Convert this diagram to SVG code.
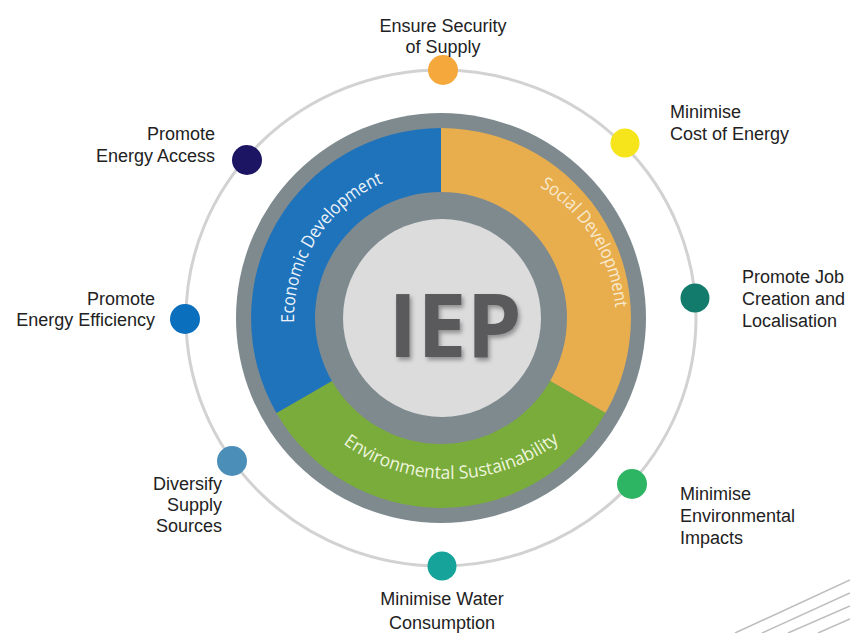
<svg xmlns="http://www.w3.org/2000/svg" width="850" height="633" viewBox="0 0 850 633">
<defs>
<style>
.lbl{font-family:"Liberation Sans",Arial,sans-serif;font-size:18px;fill:#222}
.seg{font-family:"Open Sans","DejaVu Sans",sans-serif;font-size:18px}
.deco{stroke:#bdbdbd;stroke-width:1.5;fill:none}
</style>
<filter id="sh" x="-20%" y="-20%" width="140%" height="140%">
<feDropShadow dx="2" dy="3" stdDeviation="2" flood-color="#000" flood-opacity="0.35"/>
</filter>
<path id="pEco" d="M295.3,337.2 A147,147 0 0 1 396.8,177.8"/>
<path id="pSoc" d="M506.8,171.7 A158,158 0 0 1 614.5,344"/>
<path id="pEnv" d="M312.9,415.1 A179,179 0 0 0 589.1,412.6"/>
</defs>
<rect width="850" height="633" fill="#fff"/>
<g id="decoration">
<line class="deco" x1="735" y1="633" x2="850" y2="580"/>
<line class="deco" x1="762" y1="633" x2="850" y2="593"/>
<line class="deco" x1="788" y1="633" x2="850" y2="606"/>
<line class="deco" x1="818" y1="633" x2="850" y2="619"/>
</g>
<g id="connectors">
<ellipse cx="441" cy="318" rx="255" ry="248" fill="none" stroke="#d2d2d2" stroke-width="3"/>
</g>
<g id="wheel">
<circle cx="441" cy="318" r="205" fill="#7f8a8f"/>
<path d="M441,128 A190,190 0 0 1 605.5,413 L550.1,381 A126,126 0 0 0 441,192 Z" fill="#e8ae4e"/>
<path d="M605.5,413 A190,190 0 0 1 276.5,413 L331.9,381 A126,126 0 0 0 550.1,381 Z" fill="#79ac3b"/>
<path d="M276.5,413 A190,190 0 0 1 441,128 L441,192 A126,126 0 0 0 331.9,381 Z" fill="#1f73bb"/>
<circle cx="442" cy="318" r="99" fill="#dcdcdc"/>
</g>
<g id="economic-development">
<text class="seg" fill="#eef3f9"><textPath href="#pEco" startOffset="50%" text-anchor="middle" textLength="176" lengthAdjust="spacingAndGlyphs">Economic Development</textPath></text>
</g>
<g id="social-development">
<text class="seg" fill="#f8ead0"><textPath href="#pSoc" startOffset="50%" text-anchor="middle" textLength="148" lengthAdjust="spacingAndGlyphs">Social Development</textPath></text>
</g>
<g id="environmental-sustainability">
<text class="seg" fill="#eef5de"><textPath href="#pEnv" startOffset="50%" text-anchor="middle" textLength="232" lengthAdjust="spacingAndGlyphs">Environmental Sustainability</textPath></text>
</g>
<g id="iep">
<text x="455" y="357" text-anchor="middle" font-family="'Open Sans','DejaVu Sans',sans-serif" font-weight="bold" font-size="88" fill="#5a5a5c" filter="url(#sh)">IEP</text>
</g>
<g id="n-security">
<circle cx="443" cy="70" r="15" fill="#f5a83b"/>
<text class="lbl" text-anchor="middle"><tspan x="443" y="32">Ensure Security</tspan><tspan x="443" y="53">of Supply</tspan></text>
</g>
<g id="n-cost">
<circle cx="625" cy="143" r="14.5" fill="#f7e51b"/>
<text class="lbl"><tspan x="670" y="118">Minimise</tspan><tspan x="670" y="140">Cost of Energy</tspan></text>
</g>
<g id="n-job">
<circle cx="695" cy="298" r="14.5" fill="#137b6b"/>
<text class="lbl"><tspan x="742" y="283">Promote Job</tspan><tspan x="742" y="305">Creation and</tspan><tspan x="742" y="327">Localisation</tspan></text>
</g>
<g id="n-environment">
<circle cx="632" cy="484" r="15" fill="#2db563"/>
<text class="lbl"><tspan x="680" y="500">Minimise</tspan><tspan x="680" y="522">Environmental</tspan><tspan x="680" y="544">Impacts</tspan></text>
</g>
<g id="n-water">
<circle cx="442" cy="566" r="14.5" fill="#15a39a"/>
<text class="lbl" text-anchor="middle"><tspan x="442" y="605">Minimise Water</tspan><tspan x="442" y="629">Consumption</tspan></text>
</g>
<g id="n-diversify">
<circle cx="232" cy="461" r="15" fill="#4b8fb8"/>
<text class="lbl" text-anchor="end"><tspan x="222" y="490">Diversify</tspan><tspan x="222" y="511">Supply</tspan><tspan x="222" y="532">Sources</tspan></text>
</g>
<g id="n-efficiency">
<circle cx="185" cy="319" r="15" fill="#0a6fbd"/>
<text class="lbl" text-anchor="end"><tspan x="155" y="305">Promote</tspan><tspan x="155" y="326">Energy Efficiency</tspan></text>
</g>
<g id="n-access">
<circle cx="247" cy="160" r="15" fill="#1b1563"/>
<text class="lbl" text-anchor="end"><tspan x="215" y="140">Promote</tspan><tspan x="215" y="162">Energy Access</tspan></text>
</g>
</svg>
